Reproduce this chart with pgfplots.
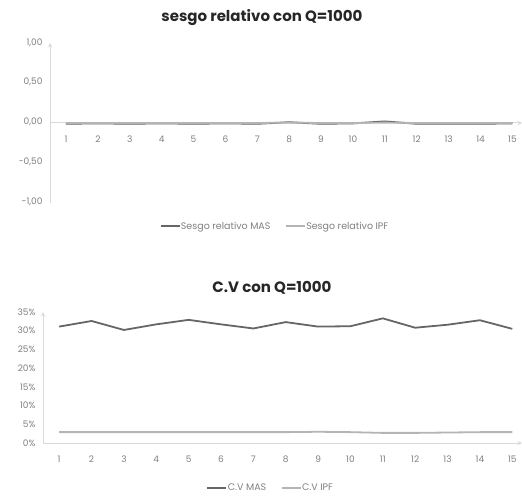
\documentclass[border=0pt]{standalone}
\usepackage{fontspec}
\setmainfont{Poppins}
\usepackage{pgfplots}
\pgfplotsset{compat=1.18}

\definecolor{masgray}{HTML}{666666}
\definecolor{ipfgray}{HTML}{B4B4B4}
\definecolor{axisgray}{HTML}{D9D9D9}
\definecolor{labelgray}{HTML}{7F7F7F}
\definecolor{titlegray}{HTML}{262626}

\pgfplotsset{
  excelline/.style={
    scale only axis,
    xmin=0.5, xmax=15.3,
    xtick={1,...,15},
    major tick length=0pt,
    axis line style={-, draw=axisgray, line width=1pt},
    tick label style={font=\fontsize{9}{10}\selectfont, text=labelgray},
    typeset ticklabels with strut,
    /pgf/number format/assume math mode=true,
    legend style={draw=none, fill=none, font=\fontsize{9.5}{11}\selectfont, text=labelgray,
      legend columns=2, inner sep=0pt,
      /tikz/every odd column/.style={column sep=0pt},
      /tikz/every even column/.style={column sep=14pt},
      nodes={inner xsep=0.5pt}},
    legend image code/.code={\draw[#1] (0pt,0pt) -- (19pt,0pt);},
    clip=false,
  },
}

\begin{document}
\begin{tikzpicture}
\useasboundingbox (0pt,0pt) rectangle (522pt,496pt);

% sesgo relativo
\begin{axis}[excelline,
  at={(50pt,293pt)}, anchor=south west,
  width=472pt, height=160pt,
  ymin=-1, ymax=1,
  ytick={-1,-0.5,0,0.5,1},
  axis x line=middle, axis y line=left,
  hide obscured y ticks=false,
  xticklabel style={anchor=north, yshift=-9pt},
  yticklabel style={xshift=-4pt, /pgf/number format/.cd, use comma, fixed, fixed zerofill, precision=2},
  legend style={at={(axis description cs:0.475,-0.145)}, anchor=center},
]
\addplot[masgray, line width=1.8pt] coordinates {
  (1,-0.010) (2,-0.005) (3,-0.010) (4,-0.005) (5,-0.010) (6,-0.005) (7,-0.010) (8,0.010)
  (9,-0.010) (10,-0.005) (11,0.020) (12,-0.010) (13,-0.010) (14,-0.010) (15,-0.005)};
\addlegendentry{Sesgo relativo MAS}
\addplot[ipfgray, line width=1.8pt] coordinates {
  (1,0) (2,0) (3,0) (4,0) (5,0) (6,0) (7,0) (8,0.005)
  (9,0) (10,0) (11,0.005) (12,0) (13,0) (14,0) (15,0)};
\addlegendentry{Sesgo relativo IPF}
\node[font=\bfseries\fontsize{15}{18}\selectfont, text=titlegray]
  at (axis description cs:0.449,1.0) [yshift=25pt] {sesgo relativo con Q=1000};
\end{axis}

% coeficiente de variacion
\begin{axis}[excelline,
  at={(43pt,53pt)}, anchor=south west,
  width=479pt, height=131pt,
  ymin=0, ymax=35,
  ytick={0,5,...,35},
  axis x line=bottom, axis y line=left,
  xticklabel style={anchor=north, yshift=-9pt},
  yticklabel style={xshift=-4pt},
  yticklabel={\pgfmathprintnumber{\tick}\%},
  legend style={at={(axis description cs:0.474,-0.344)}, anchor=center},
]
\addplot[masgray, line width=1.8pt] coordinates {
  (1,31.1) (2,32.6) (3,30.2) (4,31.7) (5,32.9) (6,31.7) (7,30.6) (8,32.3)
  (9,31.1) (10,31.2) (11,33.3) (12,30.8) (13,31.6) (14,32.8) (15,30.5)};
\addlegendentry{C.V MAS}
\addplot[ipfgray, line width=1.8pt] coordinates {
  (1,2.9) (2,2.9) (3,2.9) (4,2.9) (5,2.9) (6,2.9) (7,2.9) (8,2.9)
  (9,3.0) (10,2.9) (11,2.7) (12,2.7) (13,2.8) (14,2.9) (15,2.9)};
\addlegendentry{C.V IPF}
\node[font=\bfseries\fontsize{15}{18}\selectfont, text=titlegray]
  at (axis description cs:0.478,1.0) [yshift=24pt] {C.V con Q=1000};
\end{axis}
\end{tikzpicture}
\end{document}
